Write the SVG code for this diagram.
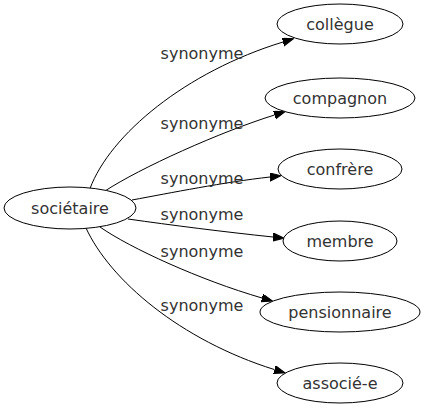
<svg xmlns="http://www.w3.org/2000/svg" width="426" height="419" viewBox="0 0 426 419">
<style>
  .node ellipse { fill: #ffffff; stroke: #000000; stroke-width: 1; }
  .node text { font-family: "DejaVu Sans", Verdana, sans-serif; font-size: 16px; fill: #333333; text-anchor: middle; }
  .edges path { fill: none; stroke: #000000; stroke-width: 1; marker-end: url(#arrow); }
  .edges text { font-family: "DejaVu Sans", Verdana, sans-serif; font-size: 16px; fill: #333333; text-anchor: middle; }
</style>
<defs>
  <marker id="arrow" markerUnits="userSpaceOnUse" markerWidth="12" markerHeight="9" refX="0" refY="4" orient="auto">
    <path d="M0,0 L11,4 L0,8 z" fill="#000000" stroke="#000000" stroke-width="1"/>
  </marker>
</defs>
<rect x="0" y="0" width="426" height="419" fill="#ffffff"/>
<g id="connectors" class="edges">
  <path d="M90,188.5 C110,135 185,72 283,42"/>
  <text x="202" y="59">synonyme</text>
  <path d="M105,191 C140,168 220,132 274.5,115"/>
  <text x="202" y="129">synonyme</text>
  <path d="M132,200 C170,193 225,182 270,177"/>
  <text x="202" y="184">synonyme</text>
  <path d="M128,219 C170,225 225,232 273,237"/>
  <text x="202" y="220">synonyme</text>
  <path d="M100,227 C130,248 200,280 262,298"/>
  <text x="202" y="257">synonyme</text>
  <path d="M86,228 C110,280 180,340 274.5,369.6"/>
  <text x="202" y="311">synonyme</text>
</g>
<g id="societaire" class="node">
  <ellipse cx="70" cy="208" rx="66" ry="21"/>
  <text x="70" y="214">sociétaire</text>
</g>
<g id="collegue" class="node">
  <ellipse cx="340" cy="24" rx="63" ry="20"/>
  <text x="340" y="30">collègue</text>
</g>
<g id="compagnon" class="node">
  <ellipse cx="340" cy="98" rx="75" ry="20"/>
  <text x="340" y="104">compagnon</text>
</g>
<g id="confrere" class="node">
  <ellipse cx="340" cy="169" rx="62" ry="20"/>
  <text x="340" y="175">confrère</text>
</g>
<g id="membre" class="node">
  <ellipse cx="340" cy="241" rx="57" ry="20"/>
  <text x="340" y="247">membre</text>
</g>
<g id="pensionnaire" class="node">
  <ellipse cx="340" cy="312" rx="80" ry="20"/>
  <text x="340" y="318">pensionnaire</text>
</g>
<g id="associe-e" class="node">
  <ellipse cx="340" cy="383" rx="63" ry="20"/>
  <text x="340" y="389">associé-e</text>
</g>
</svg>
